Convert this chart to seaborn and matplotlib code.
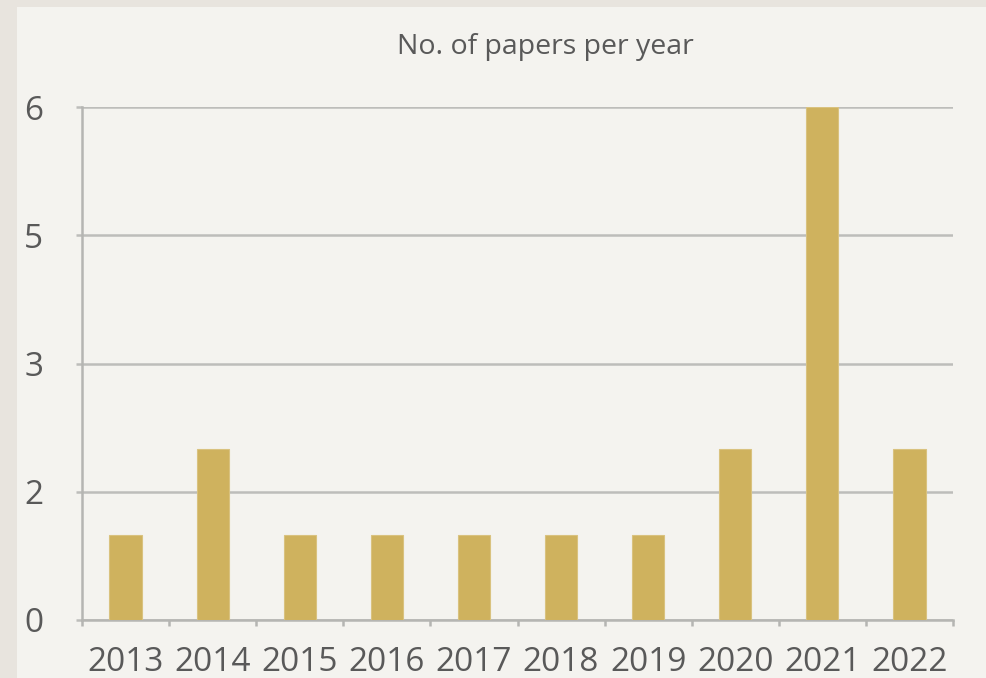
import matplotlib
matplotlib.use("Agg")
import matplotlib.pyplot as plt
import seaborn as sns
import pandas as pd
from matplotlib.patches import Rectangle
from matplotlib.ticker import FixedLocator

years = ["2013", "2014", "2015", "2016", "2017", "2018", "2019", "2020", "2021", "2022"]
papers = [1, 2, 1, 1, 1, 1, 1, 2, 6, 2]
ytick_values = [0, 1.5, 3, 4.5, 6]
ytick_labels = ["0", "2", "3", "5", "6"]
title = "No. of papers per year"

df = pd.DataFrame({"year": years, "papers": papers})

sns.set_theme(style="white")
plt.rcParams['font.family'] = ['Open Sans', 'DejaVu Sans']

fig = plt.figure(figsize=(9.87, 6.78), dpi=100)
fig.patch.set_facecolor("#E8E4DE")
fig.patches.append(Rectangle((17/987, 0), 1 - 17/987, 1 - 7/678, transform=fig.transFigure,
                             facecolor="#F4F3EF", edgecolor="none", zorder=-10))

ax = fig.add_axes([82/987, 1 - 620/678, (953 - 82)/987, (620 - 107)/678])
ax.set_facecolor("#F4F3EF")
ax.patch.set_alpha(0)

sns.barplot(data=df, x="year", y="papers", color="#CFB25E", saturation=1,
            width=0.37, ax=ax, zorder=3, edgecolor="#D9C27F", linewidth=0.8)

ax.set_ylim(0, 6)
ax.set_xlim(-0.5, 9.5)
ax.set_yticks(ytick_values)
ax.set_yticklabels(ytick_labels)
ax.yaxis.grid(True, color="#BDBDBA", linewidth=1.8, zorder=1)
ax.set_axisbelow(True)
ax.set_xlabel("")
ax.set_ylabel("")

for s in ["top", "right"]:
    ax.spines[s].set_visible(False)
for s in ["left", "bottom"]:
    ax.spines[s].set_color("#B5B5B2")
    ax.spines[s].set_linewidth(1.8)

ax.tick_params(axis="y", length=4, width=1.8, color="#BDBDBA", pad=24,
               labelsize=24, labelcolor="#595959", left=True)
ax.tick_params(axis="x", which="major", length=0, pad=19, labelsize=24, labelcolor="#595959",
               bottom=True)
ax.xaxis.set_minor_locator(FixedLocator([i - 0.5 for i in range(len(years) + 1)]))
ax.tick_params(axis="x", which="minor", length=4, width=1.8, color="#B5B5B2", bottom=True)

fig.text(545/987, 1 - 47/678, title, ha="center", va="center", fontsize=20.5, color="#595959")

fig.savefig("out.png", dpi=100, facecolor=fig.get_facecolor())
